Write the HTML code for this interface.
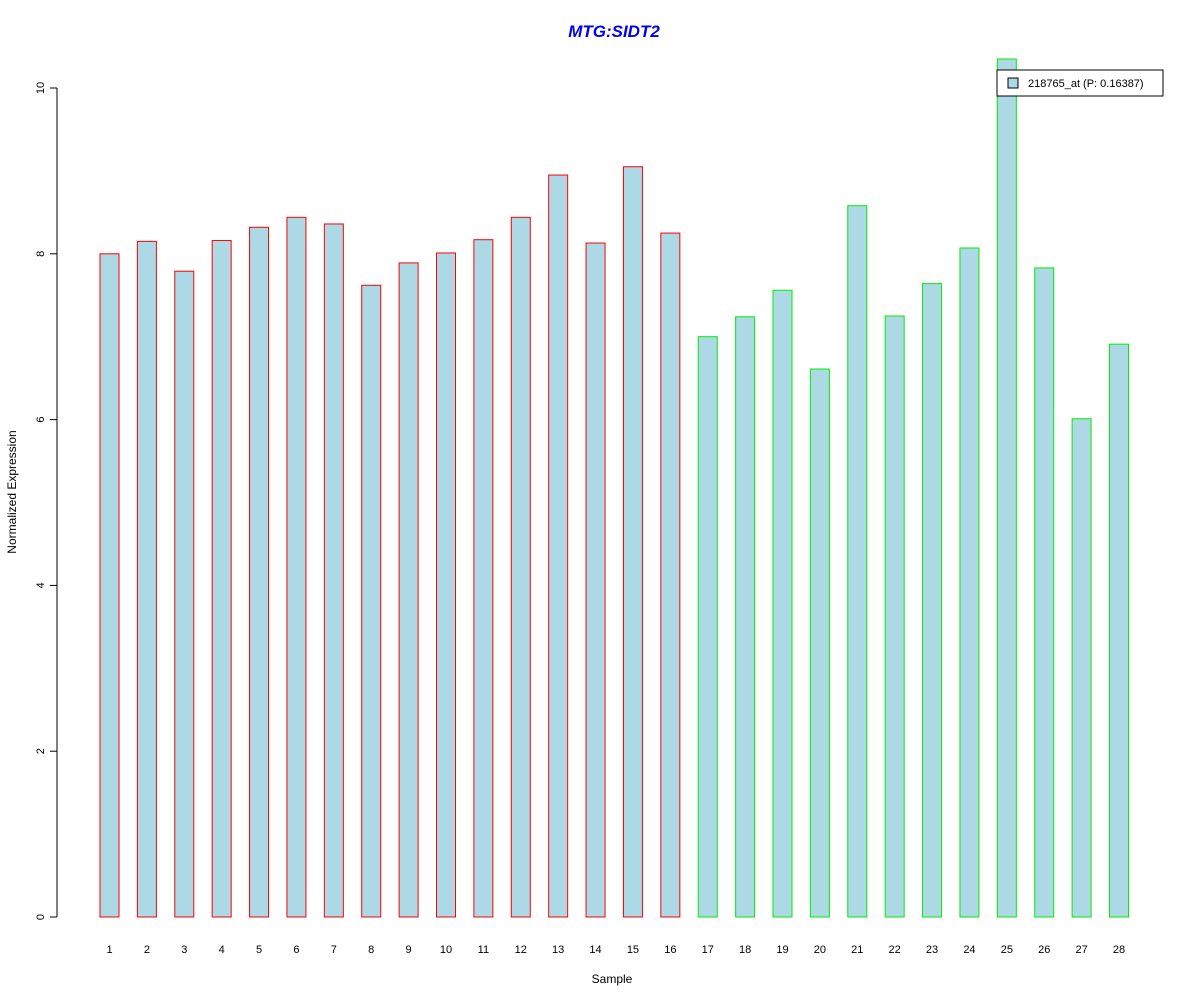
<!DOCTYPE html>
<html><head><meta charset="utf-8"><style>
html,body{margin:0;padding:0;background:#fff;}
svg{display:block;font-family:"Liberation Sans",Arial,sans-serif;}
</style></head><body>
<svg id="chart" width="1200" height="1000">
<text x="614" y="37" text-anchor="middle" font-size="17" font-weight="bold" font-style="italic" fill="#0000ee">MTG:SIDT2</text>
<text x="612" y="983" text-anchor="middle" font-size="12">Sample</text>
<text transform="translate(16,492) rotate(-90)" text-anchor="middle" font-size="12">Normalized Expression</text>
<g id="yaxis"></g>
<g id="bars"></g>
<g id="xlabels"></g>
<g>
<rect x="997" y="70" width="166" height="26" fill="#fff" stroke="#000"/>
<rect x="1008" y="78" width="10" height="10" fill="#add8e6" stroke="#000"/>
<text x="1028" y="87" font-size="11">218765_at (P: 0.16387)</text>
</g>
</svg>
<script>
const categories = ["1","2","3","4","5","6","7","8","9","10","11","12","13","14","15","16","17","18","19","20","21","22","23","24","25","26","27","28"];
const values = [8.0,8.15,7.79,8.16,8.32,8.44,8.36,7.62,7.89,8.01,8.17,8.44,8.95,8.13,9.05,8.25,7.0,7.24,7.56,6.61,8.58,7.25,7.64,8.07,10.35,7.83,6.01,6.91];
const groups = [1,1,1,1,1,1,1,1,1,1,1,1,1,1,1,1,2,2,2,2,2,2,2,2,2,2,2,2];
const yTicks = [0,2,4,6,8,10];
const NS="http://www.w3.org/2000/svg";
const y0=917, yTop=88;
function yScale(v){return y0-(v/10)*(y0-yTop);}
const x1=109.5, xStep=(1119-109.5)/27, bw=19;
function xScale(i){return x1+i*xStep;}
function mk(tag,attrs,parent){const e=document.createElementNS(NS,tag);for(const k in attrs)e.setAttribute(k,attrs[k]);parent.appendChild(e);return e;}
const ya=document.getElementById('yaxis');
const al=mk('line',{x1:57,x2:57,y1:yScale(0),y2:yScale(10),stroke:'#000'},ya);


yTicks.forEach(t=>{
  const y=yScale(t);
  const tk=mk('line',{x1:50,x2:57,y1:y,y2:y,stroke:'#000'},ya);
  
  
  const tx=mk('text',{transform:`translate(44,${y}) rotate(-90)`,'text-anchor':'middle','font-size':'11'},ya);
  tx.textContent=t;
  
  
});
const bg=document.getElementById('bars'), xl=document.getElementById('xlabels');
values.forEach((v,i)=>{
  const cx=xScale(i);
  const r=mk('rect',{x:cx-bw/2,y:yScale(v),width:bw,height:yScale(0)-yScale(v),fill:'#add8e6',stroke:groups[i]===1?'#ff0000':'#00ee00'},bg);
  
  
  const t=mk('text',{x:cx,y:953,'text-anchor':'middle','font-size':'11'},xl);
  t.textContent=categories[i];
  
  
});
</script>
</body></html>
